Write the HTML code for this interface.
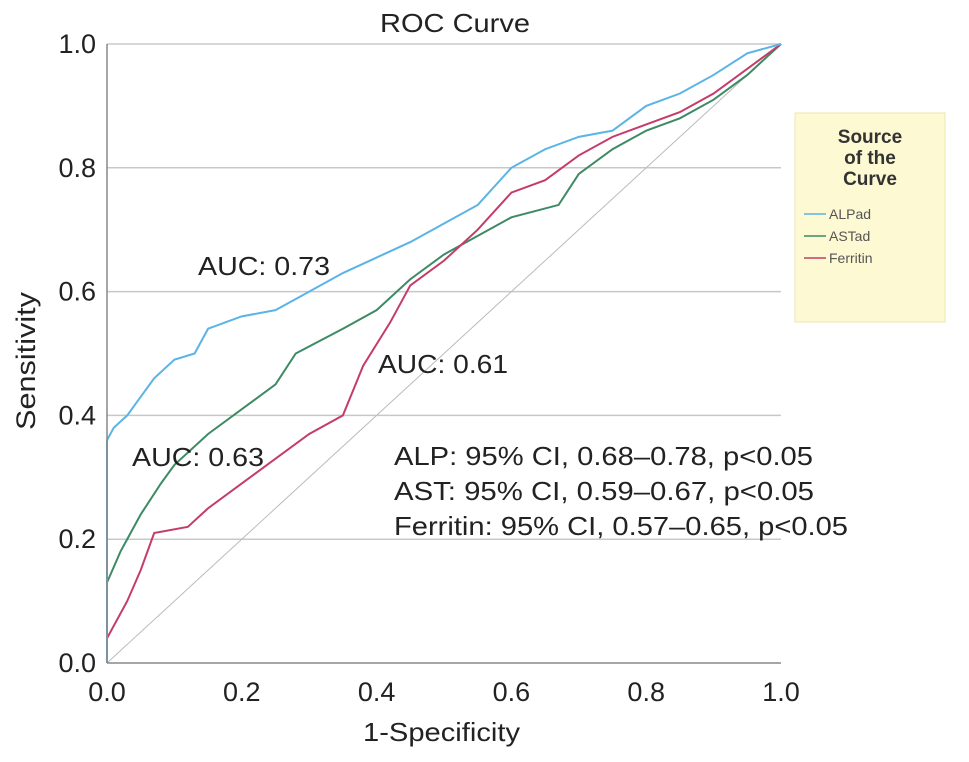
<!DOCTYPE html>
<html><head><meta charset="utf-8"><style>
body{margin:0;background:#fff;}
svg{display:block;font-family:"Liberation Sans",Arial,sans-serif;}
</style></head><body>
<svg id="chart" width="969" height="762">
<text x="380" y="32" font-size="26" textLength="150" lengthAdjust="spacingAndGlyphs" fill="#222">ROC Curve</text>
<g id="grid"></g>
<g id="series"></g>
<g id="ticks"></g>
<text x="363" y="741" font-size="26" textLength="157" lengthAdjust="spacingAndGlyphs" fill="#222">1-Specificity</text>
<text transform="translate(35,430) rotate(-90)" font-size="27" textLength="138" lengthAdjust="spacingAndGlyphs" fill="#222">Sensitivity</text>
<text x="198" y="275" font-size="26" textLength="132" lengthAdjust="spacingAndGlyphs" fill="#222">AUC: 0.73</text>
<text x="378" y="373" font-size="26" textLength="130" lengthAdjust="spacingAndGlyphs" fill="#222">AUC: 0.61</text>
<text x="132" y="466" font-size="26" textLength="132" lengthAdjust="spacingAndGlyphs" fill="#222">AUC: 0.63</text>
<text x="394" y="465" font-size="26" textLength="419" lengthAdjust="spacingAndGlyphs" fill="#222">ALP: 95% CI, 0.68–0.78, p&lt;0.05</text>
<text x="394" y="500" font-size="26" textLength="420" lengthAdjust="spacingAndGlyphs" fill="#222">AST: 95% CI, 0.59–0.67, p&lt;0.05</text>
<text x="394" y="535" font-size="26" textLength="454" lengthAdjust="spacingAndGlyphs" fill="#222">Ferritin: 95% CI, 0.57–0.65, p&lt;0.05</text>
<g>
<rect x="795" y="113" width="150" height="209" fill="#fdf9d2" stroke="#ece6b0"/>
<text x="870" y="143" font-size="19" font-weight="bold" text-anchor="middle" fill="#333"><tspan x="870">Source</tspan><tspan x="870" dy="21">of the</tspan><tspan x="870" dy="21">Curve</tspan></text>
<g><line x1="804" y1="214" x2="826" y2="214" stroke="#5ab4e5" stroke-width="1.5"/><text x="829" y="219" font-size="14" fill="#555">ALPad</text></g>
<g><line x1="804" y1="236" x2="826" y2="236" stroke="#3d8a64" stroke-width="1.5"/><text x="829" y="241" font-size="14" fill="#555">ASTad</text></g>
<g><line x1="804" y1="258" x2="826" y2="258" stroke="#c43d6a" stroke-width="1.5"/><text x="829" y="263" font-size="14" fill="#555">Ferritin</text></g>
</g>
</svg>
<script>
const tickValues=[0,0.2,0.4,0.6,0.8,1.0];
const tickLabels=["0.0","0.2","0.4","0.6","0.8","1.0"];
const alpX=[0,0,0.01,0.03,0.05,0.07,0.1,0.13,0.15,0.2,0.25,0.3,0.35,0.4,0.45,0.5,0.55,0.6,0.65,0.7,0.75,0.8,0.85,0.9,0.95,1];
const alpY=[0,0.36,0.38,0.40,0.43,0.46,0.49,0.50,0.54,0.56,0.57,0.60,0.63,0.655,0.68,0.71,0.74,0.80,0.83,0.85,0.86,0.90,0.92,0.95,0.985,1];
const astX=[0,0,0.02,0.05,0.08,0.1,0.15,0.2,0.25,0.28,0.35,0.4,0.45,0.5,0.55,0.6,0.67,0.7,0.75,0.8,0.85,0.9,0.95,1];
const astY=[0,0.13,0.18,0.24,0.29,0.32,0.37,0.41,0.45,0.50,0.54,0.57,0.62,0.66,0.69,0.72,0.74,0.79,0.83,0.86,0.88,0.91,0.95,1];
const ferX=[0,0,0.03,0.05,0.07,0.12,0.15,0.2,0.25,0.3,0.35,0.38,0.42,0.45,0.5,0.55,0.6,0.65,0.7,0.75,0.8,0.85,0.9,0.95,1];
const ferY=[0,0.04,0.10,0.15,0.21,0.22,0.25,0.29,0.33,0.37,0.40,0.48,0.55,0.61,0.65,0.70,0.76,0.78,0.82,0.85,0.87,0.89,0.92,0.96,1];
const NS="http://www.w3.org/2000/svg";
const X0=107,X1=781,Y0=663,Y1=44;
function sx(v){return X0+(X1-X0)*v;}
function sy(v){return Y0-(Y0-Y1)*v;}
const grid=document.getElementById('grid'),ticks=document.getElementById('ticks'),series=document.getElementById('series');
tickValues.forEach((v,i)=>{
  if(v>0){const l=document.createElementNS(NS,'line');
  l.setAttribute('x1',X0);l.setAttribute('x2',X1);l.setAttribute('y1',sy(v));l.setAttribute('y2',sy(v));
  l.setAttribute('stroke','#c8c8c8');l.setAttribute('stroke-width','1.5');
  
  
  grid.appendChild(l);}
  const ty=document.createElementNS(NS,'text');
  ty.setAttribute('x',X0-11);ty.setAttribute('y',sy(v)+9);ty.setAttribute('text-anchor','end');ty.setAttribute('font-size','27');ty.setAttribute('fill','#222');
  ty.textContent=tickLabels[i];
  
  
  ticks.appendChild(ty);
  const tx=document.createElementNS(NS,'text');
  tx.setAttribute('x',sx(v));tx.setAttribute('y',701);tx.setAttribute('text-anchor','middle');tx.setAttribute('font-size','27');tx.setAttribute('fill','#222');
  tx.textContent=tickLabels[i];
  
  
  ticks.appendChild(tx);
});
function line(x1,y1,x2,y2,c,w,name){const l=document.createElementNS(NS,'line');
  l.setAttribute('x1',x1);l.setAttribute('y1',y1);l.setAttribute('x2',x2);l.setAttribute('y2',y2);
  l.setAttribute('stroke',c);l.setAttribute('stroke-width',w);
  
  
  series.appendChild(l);}
line(sx(0),sy(0),sx(1),sy(1),'#bbb',1,'reference-line');
function poly(xs,ys,c,name){const p=document.createElementNS(NS,'polyline');
  p.setAttribute('points',xs.map((x,i)=>sx(x)+','+sy(ys[i])).join(' '));
  p.setAttribute('fill','none');p.setAttribute('stroke',c);p.setAttribute('stroke-width','2');
  
  
  series.appendChild(p);}
poly(astX,astY,'#3d8a64','ast-curve');
poly(ferX,ferY,'#c43d6a','ferritin-curve');
poly(alpX,alpY,'#5ab4e5','alp-curve');
line(X0,Y1,X0,Y0,'#888',1.5,'y-axis');
line(X0,Y0,X1,Y0,'#888',1.5,'x-axis');
</script>
</body></html>
